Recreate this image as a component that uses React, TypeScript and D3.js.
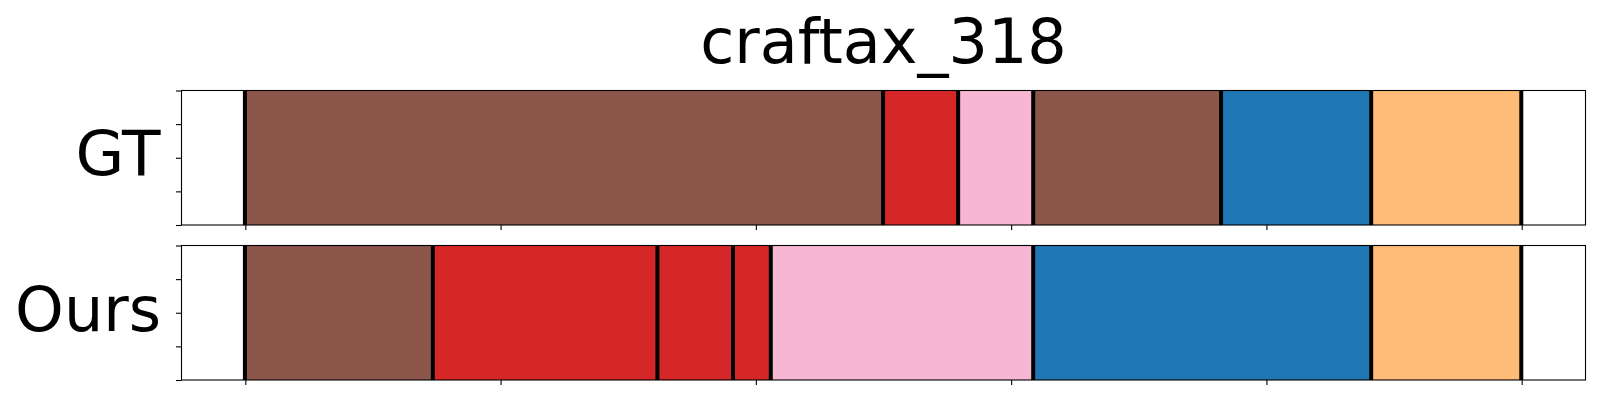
import React, { useEffect, useRef } from "react";
import * as d3 from "d3";

const title = "craftax_318";
const rowLabels = ["GT", "Ours"];

// segment boundaries (time steps) and the class of each segment
const gtBounds = [0, 125, 139.7, 154.4, 191.2, 220.6, 250];
const gtClasses = ["brown", "red", "pink", "brown", "blue", "orange"];
const oursBounds = [0, 36.8, 80.8, 95.6, 103, 154.4, 220.6, 250];
const oursClasses = ["brown", "red", "red", "red", "pink", "blue", "orange"];

const xTicks = [0, 50, 100, 150, 200, 250];
const yTicks = [0, 0.25, 0.5, 0.75, 1];

const classColors: Record<string, string> = {
  brown: "#8c564b",
  red: "#d62728",
  pink: "#f7b6d2",
  blue: "#1f77b4",
  orange: "#ffbb78",
};

function App() {
  const svgRef = useRef<SVGSVGElement>(null);

  const w = 1600;
  const h = 400;
  const left = 181.5;
  const right = 1585.5;
  const tops = [90.5, 245.5];
  const panelH = 134.5;

  useEffect(() => {
    const svg = d3.select(svgRef.current);
    svg.selectAll("*").remove();

    // 5% margins on each side, as the original plot had
    const x = d3.scaleLinear().domain([-12.5, 262.5]).range([left, right]);

    svg
      .append("text")
      .attr("x", (left + right) / 2)
      .attr("y", 62.5)
      .attr("text-anchor", "middle")
      .style("font-family", "DejaVu Sans")
      .style("font-size", "62px")
      .text(title);

    const rows = [
      { bounds: gtBounds, classes: gtClasses },
      { bounds: oursBounds, classes: oursClasses },
    ];

    rows.forEach((row, r) => {
      const top = tops[r];
      const y = d3.scaleLinear().domain([0, 1]).range([top + panelH, top]);
      const g = svg.append("g");

      const segs = row.classes.map((c, i) => ({
        c,
        x0: row.bounds[i],
        x1: row.bounds[i + 1],
      }));

      g.selectAll("rect.seg")
        .data(segs)
        .join("rect")
        .attr("class", "seg")
        .attr("x", (d) => x(d.x0))
        .attr("width", (d) => x(d.x1) - x(d.x0))
        .attr("y", y(1))
        .attr("height", y(0) - y(1))
        .attr("fill", (d) => classColors[d.c]);

      g.selectAll("line.bound")
        .data(row.bounds)
        .join("line")
        .attr("class", "bound")
        .attr("x1", (d) => x(d) - 0.4)
        .attr("x2", (d) => x(d) - 0.4)
        .attr("y1", y(1))
        .attr("y2", y(0))
        .attr("stroke", "#000")
        .attr("stroke-width", 4);

      g.append("rect")
        .attr("x", left)
        .attr("y", top)
        .attr("width", right - left)
        .attr("height", panelH)
        .attr("fill", "none")
        .attr("stroke", "#000")
        .attr("stroke-width", 1.1);

      const xAxis = d3
        .axisBottom(x)
        .tickValues(xTicks)
        .tickSize(5)
        .tickFormat(() => "");
      const yAxis = d3
        .axisLeft(y)
        .tickValues(yTicks)
        .tickSize(5.5)
        .tickFormat(() => "");

      const gx = g.append("g").attr("transform", `translate(0, ${top + panelH})`).call(xAxis);
      const gy = g.append("g").attr("transform", `translate(${left}, 0)`).call(yAxis);
      [gx, gy].forEach((a) => {
        a.select(".domain").remove();
        a.selectAll(".tick line").attr("stroke", "#000").attr("stroke-width", 1.1);
      });

      g.append("text")
        .attr("x", r === 0 ? 160.5 : 161)
        .attr("y", r === 0 ? 174.8 : 330.5)
        .attr("text-anchor", "end")
        .style("font-family", "DejaVu Sans")
        .style("font-size", r === 0 ? "63px" : "62px")
        .text(rowLabels[r]);
    });
  }, []);

  return (
    <svg
      ref={svgRef}
      width={w}
      height={h}
      style={{ position: "absolute", left: 0, top: 0, background: "#fff" }}
    ></svg>
  );
}

export default App;
